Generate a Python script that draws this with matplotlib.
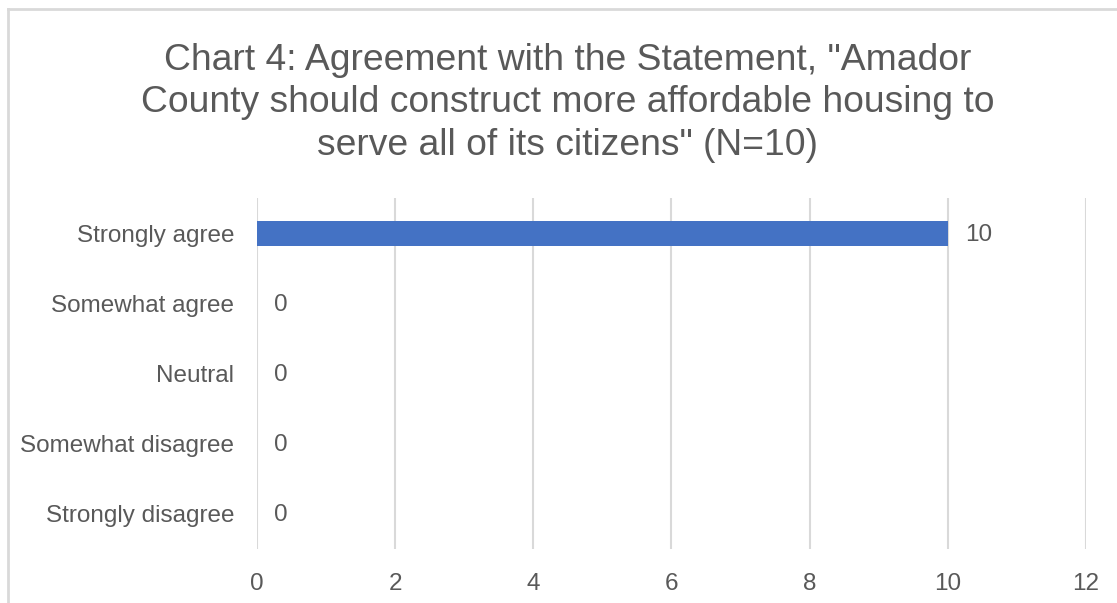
import matplotlib.pyplot as plt
from matplotlib.lines import Line2D

# Survey responses (N=10)
categories = ['Strongly agree', 'Somewhat agree', 'Neutral',
              'Somewhat disagree', 'Strongly disagree']
counts = [10, 0, 0, 0, 0]
xticks = [0, 2, 4, 6, 8, 10, 12]
title = ('Chart 4: Agreement with the Statement, "Amador\n'
         'County should construct more affordable housing to\n'
         'serve all of its citizens" (N=10)')

text_color = '#595959'
bar_color = '#4472C4'
grid_color = '#D9D9D9'

plt.rcParams['font.family'] = ['Liberation Sans', 'DejaVu Sans']

fig = plt.figure(figsize=(11.17, 6.03), dpi=100)
ax = fig.add_axes([0.2301, 0.0896, 0.9722 - 0.2301, 0.6716 - 0.0896])

ypos = list(range(len(categories)))
ax.barh(ypos, counts, height=0.356, color=bar_color, zorder=3)
for y, v in zip(ypos, counts):
    ax.annotate(str(v), xy=(v, y), xytext=(12.5, -1), textcoords='offset points',
                ha='left', va='center', fontsize=17.5, color=text_color)

ax.set_xlim(0, 12)
ax.set_ylim(len(categories) - 0.5, -0.5)
ax.set_xticks(xticks)
ax.set_yticks(ypos)
ax.set_yticklabels(categories)
ax.tick_params(axis='both', length=0, labelsize=17.5, colors=text_color)
ax.tick_params(axis='x', pad=17.5)
ax.tick_params(axis='y', pad=16.5)
ax.grid(axis='x', color=grid_color, linewidth=1.5, zorder=0)
for s in ax.spines.values():
    s.set_visible(False)

fig.text(567.5 / 1117, 1 - 155 / 603, title, ha='center', va='baseline',
         fontsize=26.8, color=text_color, linespacing=1.28)

# chart area border (cut off at right and bottom)
bx, by = 7.5 / 1117, 1 - 8.5 / 603
fig.add_artist(Line2D([bx, bx], [0, by], color=grid_color, linewidth=2,
                      transform=fig.transFigure))
fig.add_artist(Line2D([bx, 1], [by, by], color=grid_color, linewidth=2,
                      transform=fig.transFigure))

fig.savefig('out.png', dpi=100)
